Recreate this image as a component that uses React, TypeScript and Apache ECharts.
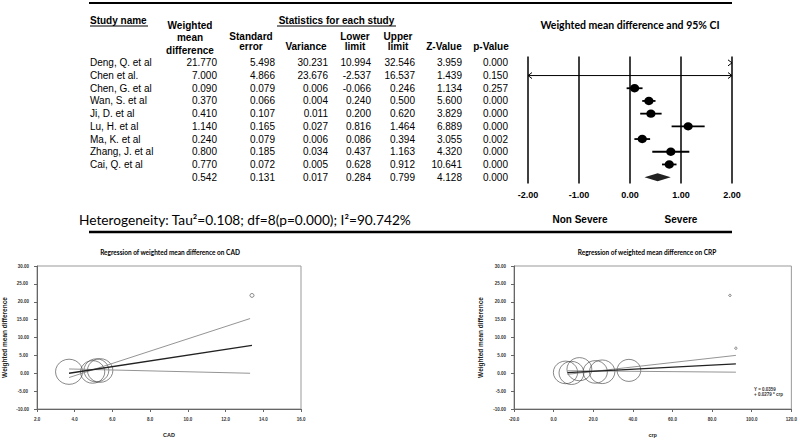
import React, { useEffect, useRef } from "react";
import * as echarts from "echarts";

// ---------- data ----------
const studies = [
  "Deng, Q. et al",
  "Chen et al.",
  "Chen, G. et al",
  "Wan, S. et al",
  "Ji, D. et al",
  "Lu, H. et al",
  "Ma, K. et al",
  "Zhang, J. et al",
  "Cai, Q. et al",
];
const wmd = [21.77, 7.0, 0.09, 0.37, 0.41, 1.14, 0.24, 0.8, 0.77];
const stdErr = [5.498, 4.866, 0.079, 0.066, 0.107, 0.165, 0.079, 0.185, 0.072];
const variance = [30.231, 23.676, 0.006, 0.004, 0.011, 0.027, 0.006, 0.034, 0.005];
const lowerLimit = [10.994, -2.537, -0.066, 0.24, 0.2, 0.816, 0.086, 0.437, 0.628];
const upperLimit = [32.546, 16.537, 0.246, 0.5, 0.62, 1.464, 0.394, 1.163, 0.912];
const zValue = [3.959, 1.439, 1.134, 5.6, 3.829, 6.889, 3.055, 4.32, 10.641];
const pValue = [0.0, 0.15, 0.257, 0.0, 0.0, 0.0, 0.002, 0.0, 0.0];
// summary: wmd, se, variance, lower, upper, z, p
const summaryRow = [0.542, 0.131, 0.017, 0.284, 0.799, 4.128, 0.0];
const forestTicks = [-2, -1, 0, 1, 2];

// regression on CAD: [CAD, WMD, weight]
const cadPoints = [
  [3.7, 0.41, 13],
  [4.95, 0.37, 10.5],
  [5.15, 0.8, 11],
  [5.35, 0.77, 11.5],
  [13.4, 21.77, 0.3],
];
const cadRegCenter = [[3.7, 0.0], [13.4, 7.8]];
const cadRegUpper = [[3.7, -1.2], [13.3, 15.3]];
const cadRegLower = [[3.7, 1.2], [13.3, 0.0]];

// regression on CRP: [crp, WMD, weight]
const crpPoints = [
  [6, 0.24, 10.5],
  [9, 0.09, 11],
  [13, 1.14, 11],
  [21, 0.37, 10.5],
  [24.5, 0.41, 11.5],
  [38, 0.8, 10],
  [89, 21.77, 0.1],
  [92, 7.0, 0.1],
];
const crpRegCenter = [[7, 0.2], [92, 2.6]];
const crpRegUpper = [[7, -0.3], [92, 5.0]];
const crpRegLower = [[7, 0.7], [92, 0.3]];
const crpEquation = ["Y = 0.0359", "+ 0.0279 * crp"];
// y ticks of the regression plots: -10 … 30, labelled every 5
const regYMajor = [-10, 0, 10, 20, 30];
const regYMinor = [-5, 5, 15, 25];

const heterogeneity = "Heterogeneity: Tau\u00B2=0.108; df=8(p=0.000); I\u00B2=90.742%";

// ---------- layout ----------
const FOREST_TOP = 56.5;
const FOREST_BOTTOM = 183.5;
const ROW_H = (FOREST_BOTTOM - FOREST_TOP) / 10;
const rowY = (i: number) => FOREST_TOP + ROW_H * (i + 0.5);
const colRight = [217, 275, 328, 371, 415, 462, 508];
const ARIAL = "Liberation Sans, Arial, sans-serif";
const CAL = "Lato, Open Sans, sans-serif";
const REG_TOP = 266;
const REG_BOTTOM = 410;
const REG_LEFTS = [36, 514];
const LABEL_MARGIN = 8;

function txt(text: string, x: number, y: number, opts: any = {}) {
  const align = opts.align || "left";
  const font = opts.font || `10px ${ARIAL}`;
  return {
    type: "text",
    silent: true,
    style: {
      text,
      x,
      y,
      font,
      fill: opts.fill || "#000",
      align,
      textAlign: align,
      verticalAlign: "middle",
      textVerticalAlign: "middle",
    },
  };
}

function hline(x1: number, x2: number, y: number, w: number, color = "#000") {
  return {
    type: "line",
    silent: true,
    shape: { x1, y1: y, x2, y2: y },
    style: { stroke: color, lineWidth: w },
  };
}

export default function App() {
  const ref = useRef<HTMLDivElement>(null);

  useEffect(() => {
    if (!ref.current) return;
    const chart = echarts.init(ref.current, undefined, { renderer: "svg" });

    const graphics: any[] = [];
    graphics.push(hline(89, 732, 3, 2));
    graphics.push(hline(89, 732, 232, 2.5));
    const hb = `bold 10px ${ARIAL}`;
    graphics.push(txt("Study name", 90, 20.5, { font: hb }));
    graphics.push(hline(90, 148, 26, 1));
    graphics.push(txt("Statistics for each study", 336.5, 20.5, { font: hb, align: "center" }));
    graphics.push(hline(277, 396, 26, 1));
    graphics.push(txt("Weighted", 190, 25, { font: hb, align: "center" }));
    graphics.push(txt("mean", 190, 37.5, { font: hb, align: "center" }));
    graphics.push(txt("difference", 190, 50, { font: hb, align: "center" }));
    graphics.push(txt("Standard", 251, 36, { font: hb, align: "center" }));
    graphics.push(txt("error", 251, 46.5, { font: hb, align: "center" }));
    graphics.push(txt("Variance", 306, 46.5, { font: hb, align: "center" }));
    graphics.push(txt("Lower", 355, 36, { font: hb, align: "center" }));
    graphics.push(txt("limit", 355, 46.5, { font: hb, align: "center" }));
    graphics.push(txt("Upper", 398, 36, { font: hb, align: "center" }));
    graphics.push(txt("limit", 398, 46.5, { font: hb, align: "center" }));
    graphics.push(txt("Z-Value", 444, 46.5, { font: hb, align: "center" }));
    graphics.push(txt("p-Value", 491, 46.5, { font: hb, align: "center" }));
    graphics.push(
      txt("Weighted mean difference and 95% CI", 630, 25, {
        font: `bold 10.5px ${CAL}`,
        align: "center",
      })
    );
    const cols = [wmd, stdErr, variance, lowerLimit, upperLimit, zValue, pValue];
    studies.forEach((s, i) => {
      const y = rowY(i);
      graphics.push(txt(s, 90, y));
      cols.forEach((c, j) => {
        graphics.push(txt(c[i].toFixed(3), colRight[j], y, { align: "right" }));
      });
    });
    summaryRow.forEach((v, j) => {
      graphics.push(txt(v.toFixed(3), colRight[j], rowY(9), { align: "right" }));
    });
    graphics.push(txt(heterogeneity, 79, 219.5, { font: `13.7px ${CAL}` }));
    graphics.push(txt("Non Severe", 580, 219.5, { font: hb, align: "center" }));
    graphics.push(txt("Severe", 681, 219.5, { font: hb, align: "center" }));
    graphics.push(
      txt("Regression of weighted mean difference on CAD", 170, 252, {
        font: `bold 6.5px ${CAL}`,
        align: "center",
      })
    );
    graphics.push(
      txt("Regression of weighted mean difference on CRP", 647, 252, {
        font: `bold 6.5px ${CAL}`,
        align: "center",
      })
    );
    graphics.push(txt(crpEquation[0], 754, 389, { font: `bold 4.5px ${ARIAL}`, fill: "#333" }));
    graphics.push(txt(crpEquation[1], 754, 394, { font: `bold 4.5px ${ARIAL}`, fill: "#333" }));

    const forestData = studies.map((_, i) => [i, wmd[i], lowerLimit[i], upperLimit[i]]);
    const cats = [...studies, "Summary"];

    const regAxisLabel = (dec: number) => ({
      fontSize: 4.5,
      fontWeight: "bold",
      color: "#333",
      fontFamily: ARIAL,
      margin: LABEL_MARGIN,
      formatter: (v: number) => v.toFixed(dec),
    });
    const regAxisCommon = {
      axisLine: { show: true, onZero: false, lineStyle: { color: "#666", width: 1 } },
      axisTick: { show: true, length: 3, lineStyle: { color: "#666" } },
      splitLine: { show: false },
    };
    const regYAxis = (gridIndex: number, nameGap: number) => ({
      gridIndex,
      type: "value",
      position: "left",
      min: regYMajor[0],
      max: regYMajor[regYMajor.length - 1],
      interval: 10,
      ...regAxisCommon,
      minorTick: { show: true, splitNumber: 2, length: 3, lineStyle: { color: "#666" } },
      axisLabel: regAxisLabel(2),
      name: "Weighted mean difference",
      nameLocation: "middle",
      nameRotate: 90,
      nameGap,
      nameMoveOverlap: false,
      nameTextStyle: { fontSize: 6.5, fontWeight: "bold", fontFamily: ARIAL, color: "#222" },
    });

    const bubbleSeries = (pts: number[][], idx: number) => ({
      type: "scatter",
      xAxisIndex: idx,
      yAxisIndex: idx,
      data: pts,
      symbol: "circle",
      symbolSize: (v: number[]) => {
        const d = 7.5 * Math.sqrt(v[2]);
        return [d, d * 0.93];
      },
      itemStyle: { color: "rgba(0,0,0,0)", borderColor: "#444", borderWidth: 0.8 },
      silent: true,
      z: 3,
    });
    const regLine = (d: number[][], idx: number, main: boolean) => ({
      type: "line",
      xAxisIndex: idx,
      yAxisIndex: idx,
      data: d,
      symbol: "none",
      silent: true,
      lineStyle: { color: main ? "#222" : "#888", width: main ? 1.3 : 0.9 },
      z: 4,
    });

    const option: any = {
      animation: false,
      backgroundColor: "#fff",
      grid: [
        { left: 528, right: 68, top: FOREST_TOP, bottom: 439 - FOREST_BOTTOM },
        {
          left: REG_LEFTS[0],
          right: 499,
          top: REG_TOP,
          bottom: 439 - REG_BOTTOM,
          show: true,
          borderColor: "#999",
          borderWidth: 1,
          backgroundColor: "transparent",
        },
        {
          left: REG_LEFTS[1],
          right: 7,
          top: REG_TOP,
          bottom: 439 - REG_BOTTOM,
          show: true,
          borderColor: "#999",
          borderWidth: 1,
          backgroundColor: "transparent",
        },
      ],
      xAxis: [
        {
          gridIndex: 0,
          type: "value",
          min: forestTicks[0],
          max: forestTicks[forestTicks.length - 1],
          interval: 1,
          axisLine: { show: false },
          axisTick: { show: false },
          splitLine: { show: true, showMinLine: true, showMaxLine: true, lineStyle: { color: "#000", width: 1.5 } },
          axisLabel: {
            fontSize: 9,
            fontWeight: "bold",
            fontFamily: ARIAL,
            color: "#000",
            margin: 7,
            formatter: (v: number) => v.toFixed(2),
          },
        },
        {
          gridIndex: 1,
          type: "value",
          min: 2,
          max: 16,
          interval: 2,
          ...regAxisCommon,
          axisLabel: regAxisLabel(1),
          name: "CAD",
          nameLocation: "middle",
          nameGap: 23,
          nameMoveOverlap: false,
          nameTextStyle: { fontSize: 5.5, fontWeight: "bold", fontFamily: ARIAL, color: "#222" },
        },
        {
          gridIndex: 2,
          type: "value",
          min: -20,
          max: 120,
          interval: 20,
          ...regAxisCommon,
          axisLabel: regAxisLabel(1),
          name: "crp",
          nameLocation: "middle",
          nameGap: 23,
          nameMoveOverlap: false,
          nameTextStyle: { fontSize: 5.5, fontWeight: "bold", fontFamily: ARIAL, color: "#222" },
        },
      ],
      yAxis: [
        {
          gridIndex: 0,
          type: "category",
          data: cats,
          inverse: true,
          show: false,
        },
        regYAxis(1, 29),
        regYAxis(2, 30),
      ],
      series: [
        {
          type: "custom",
          xAxisIndex: 0,
          yAxisIndex: 0,
          data: forestData,
          silent: true,
          clip: false,
          renderItem: (params: any, api: any) => {
            const idx = api.value(0);
            const m = api.value(1);
            const lo = api.value(2);
            const hi = api.value(3);
            const y = api.coord([0, idx])[1];
            const xMin = api.coord([-2, idx])[0];
            const xMax = api.coord([2, idx])[0];
            const cx = (v: number) => api.coord([v, idx])[0];
            const children: any[] = [];
            const chevR = (x: number) => ({
              type: "polyline",
              shape: { points: [[x - 4, y - 3], [x, y], [x - 4, y + 3]] },
              style: { stroke: "#000", lineWidth: 1, fill: null },
            });
            const chevL = (x: number) => ({
              type: "polyline",
              shape: { points: [[x + 4, y - 3], [x, y], [x + 4, y + 3]] },
              style: { stroke: "#000", lineWidth: 1, fill: null },
            });
            if (lo > 2) {
              children.push(chevR(xMax));
            } else {
              const clipped = lo < -2 || hi > 2;
              const x1 = lo < -2 ? xMin : cx(lo);
              const x2 = hi > 2 ? xMax : cx(hi);
              children.push({
                type: "line",
                shape: { x1, y1: y, x2, y2: y },
                style: { stroke: "#000", lineWidth: clipped ? 1 : 1.8 },
              });
              if (lo < -2) children.push(chevL(xMin));
              if (hi > 2) children.push(chevR(xMax));
              if (m >= -2 && m <= 2) {
                children.push({
                  type: "ellipse",
                  shape: { cx: cx(m), cy: y, rx: 4.6, ry: 4.2 },
                  style: { fill: "#000" },
                });
              }
            }
            return { type: "group", children };
          },
          z: 5,
        },
        {
          type: "custom",
          xAxisIndex: 0,
          yAxisIndex: 0,
          data: [[9, summaryRow[0], summaryRow[3], summaryRow[4]]],
          silent: true,
          renderItem: (params: any, api: any) => {
            const idx = api.value(0);
            const y = api.coord([0, idx])[1];
            const xm = api.coord([api.value(1), idx])[0];
            const xl = api.coord([api.value(2), idx])[0];
            const xu = api.coord([api.value(3), idx])[0];
            return {
              type: "polygon",
              shape: { points: [[xl, y], [xm, y - 4], [xu, y], [xm, y + 4]] },
              style: { fill: "#222" },
            };
          },
          z: 5,
        },
        bubbleSeries(cadPoints, 1),
        regLine(cadRegUpper, 1, false),
        regLine(cadRegLower, 1, false),
        regLine(cadRegCenter, 1, true),
        bubbleSeries(crpPoints, 2),
        regLine(crpRegUpper, 2, false),
        regLine(crpRegLower, 2, false),
        regLine(crpRegCenter, 2, true),
      ],
    };

    chart.setOption(option);

    // in-between y labels (-5, 5, 15, 25), positioned through the y axes' own scales
    [1, 2].forEach((axisIdx, k) => {
      regYMinor.forEach((v) => {
        const py = chart.convertToPixel({ yAxisIndex: axisIdx } as any, v) as number;
        if (typeof py === "number" && isFinite(py)) {
          graphics.push(
            txt(v.toFixed(2), REG_LEFTS[k] - LABEL_MARGIN, py, {
              font: `bold 4.5px ${ARIAL}`,
              fill: "#333",
              align: "right",
            })
          );
        }
      });
    });

    chart.setOption({ graphic: { elements: graphics } });
    return () => chart.dispose();
  }, []);

  return (
    <div
      ref={ref}
      style={{ position: "absolute", left: 0, top: 0, width: 800, height: 439, background: "#fff" }}
    />
  );
}
